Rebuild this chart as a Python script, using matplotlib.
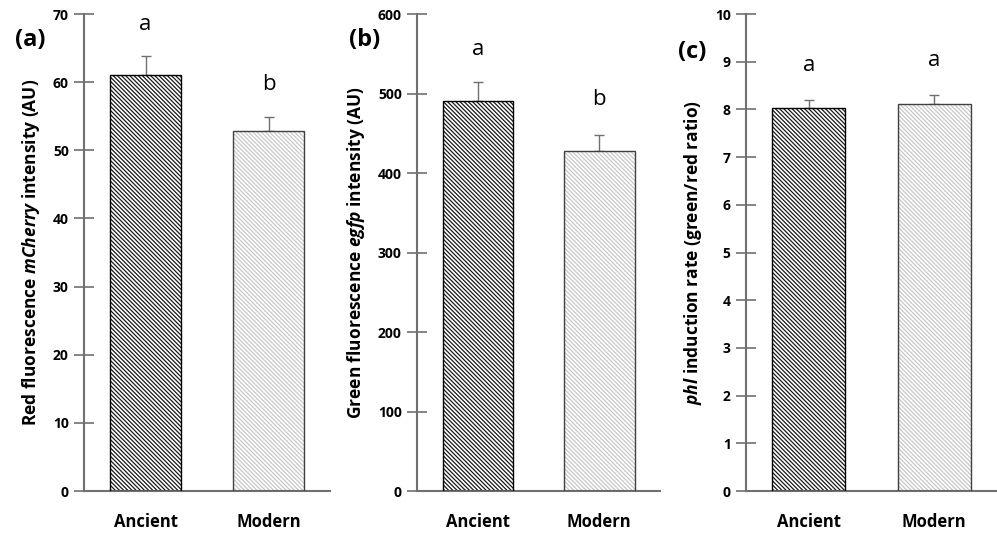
import numpy as np
import matplotlib
matplotlib.use('Agg')
from matplotlib import pyplot as plt

# data
groups = ['Ancient', 'Modern']
red_mean = [61.0, 52.9]
red_err = [2.8, 2.0]
green_mean = [490, 428]
green_err = [24, 20]
ratio_mean = [8.02, 8.12]
ratio_err = [0.18, 0.19]
letters_a = ['a', 'b']
letters_b = ['a', 'b']
letters_c = ['a', 'a']

fam = 'Open Sans'
plt.rcParams['font.family'] = [fam, 'DejaVu Sans']
plt.rcParams['mathtext.fontset'] = 'custom'
plt.rcParams['mathtext.rm'] = fam
plt.rcParams['mathtext.it'] = fam + ':italic'
plt.rcParams['mathtext.bf'] = fam + ':bold'
plt.rcParams['mathtext.bfit'] = fam + ':bold:italic'
plt.rcParams['hatch.linewidth'] = 0.9

fig = plt.figure(figsize=(9.97, 5.39), dpi=100)

axes_pos = [[0.0843, 0.089, 0.2467, 0.885],
            [0.4183, 0.089, 0.2437, 0.885],
            [0.7482, 0.089, 0.2517, 0.885]]

# (means, errors, letters, letter heights, ymax, step, ylabel, panel tag, tag xy)
panels = [
    (red_mean, red_err, letters_a, [67.6, 58.8], 70, 10,
     r'Red fluorescence $\mathbfit{mCherry}$ intensity (AU)', '(a)', (0.030, 0.925)),
    (green_mean, green_err, letters_b, [548, 485], 600, 100,
     r'Green fluorescence $\mathbfit{egfp}$ intensity (AU)', '(b)', (0.366, 0.925)),
    (ratio_mean, ratio_err, letters_c, [8.8, 8.92], 10, 1,
     r'$\mathbfit{phl}$ induction rate (green/red ratio)', '(c)', (0.694, 0.903)),
]

hatch_cols = ['#1a1a1a', '#c8c8c8']
hatches = ['\\' * 8, '\\' * 8]
x = np.arange(len(groups))

for pos, (means, errs, lets, let_y, ymax, step, ylab, plab, plab_xy) in zip(axes_pos, panels):
    ax = fig.add_axes(pos)
    for i in range(len(groups)):
        ax.bar(x[i], means[i], width=0.58, color='white', edgecolor=hatch_cols[i],
               hatch=hatches[i], linewidth=0, zorder=2)
        ax.bar(x[i], means[i], width=0.58, fill=False,
               edgecolor='black' if i == 0 else '#404040', linewidth=1.0, zorder=3)
        ax.text(x[i], let_y[i], lets[i], ha='center', va='baseline', fontsize=16)
    ax.errorbar(x, means, yerr=[np.zeros(len(errs)), errs], fmt='none', ecolor='#707070',
                elinewidth=1.0, capsize=3.5, capthick=1.0, zorder=1)
    ax.set_xlim(-0.5, 1.5)
    ax.set_ylim(0, ymax)
    ax.set_yticks(np.arange(0, ymax + step / 2, step))
    ax.set_xticks(x)
    ax.set_xticklabels(groups, fontsize=12, fontweight='bold')
    ax.tick_params(axis='x', length=0, pad=16)
    ax.tick_params(axis='y', direction='inout', length=14, width=1.2, color='#707070',
                   labelsize=10, pad=4)
    for lab in ax.get_yticklabels():
        lab.set_fontweight('bold')
    ax.spines['top'].set_visible(False)
    ax.spines['right'].set_visible(False)
    ax.spines['left'].set_color('#707070')
    ax.spines['bottom'].set_color('#707070')
    ax.spines['left'].set_linewidth(1.5)
    ax.spines['bottom'].set_linewidth(1.5)
    ax.set_ylabel(ylab, fontsize=12.5, fontweight='bold', labelpad=8)
    fig.text(plab_xy[0], plab_xy[1], plab, fontsize=17, fontweight='bold', ha='center', va='center')

fig.savefig('out.png', dpi=100)
